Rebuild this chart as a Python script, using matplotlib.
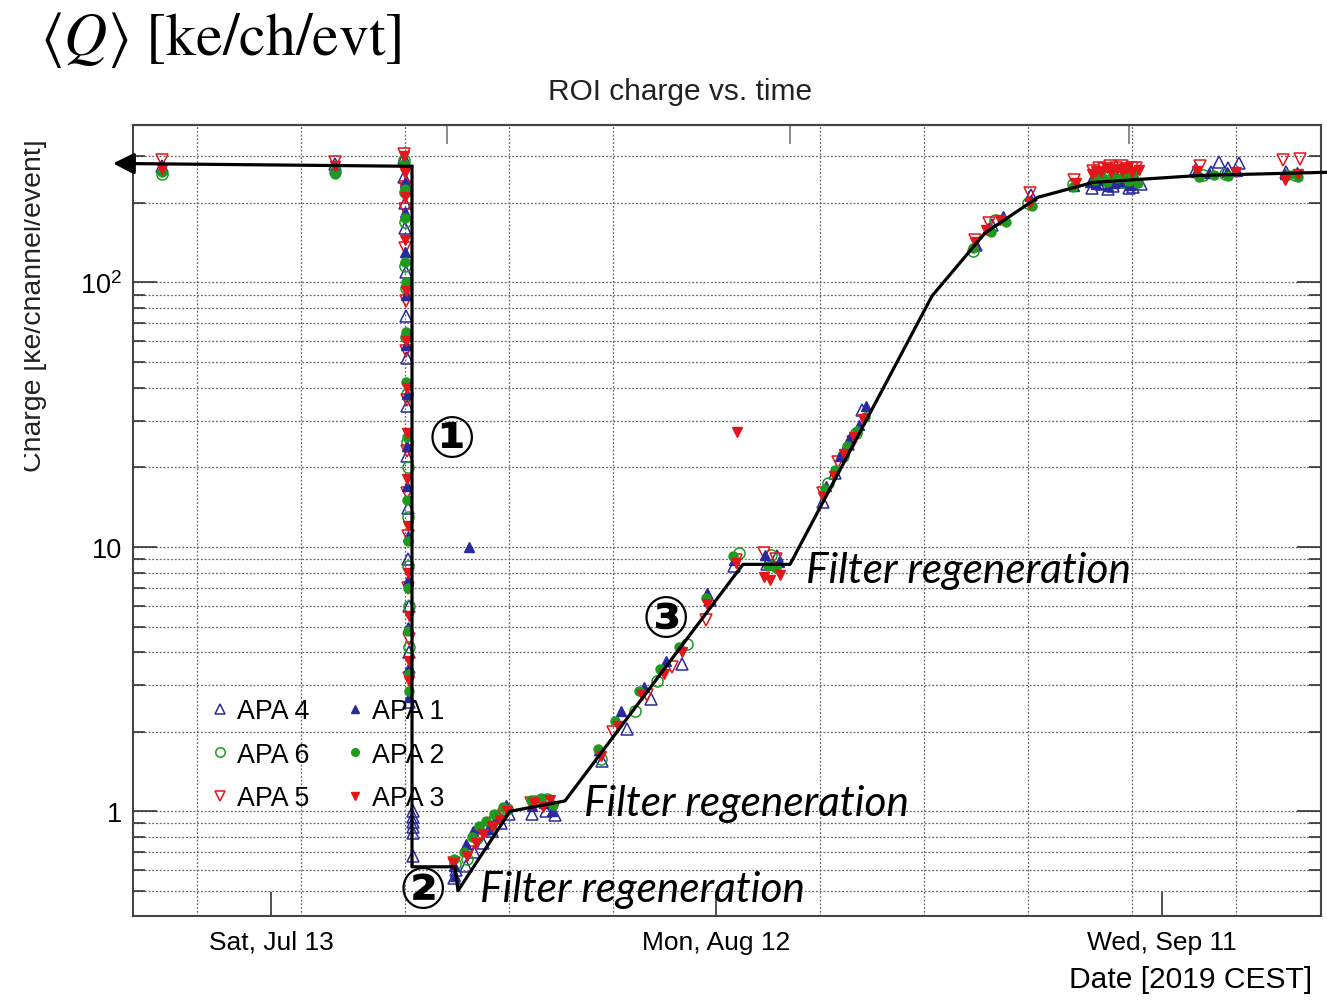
import numpy as np
import matplotlib.pyplot as plt
import matplotlib.dates as mdates
from matplotlib.ticker import FixedLocator, FixedFormatter, LogLocator, NullFormatter
from matplotlib.transforms import Bbox, TransformedBbox

plt.rcParams['font.family'] = ['Liberation Sans', 'DejaVu Sans']
plt.rcParams['mathtext.fontset'] = 'custom'
plt.rcParams['mathtext.rm'] = 'Liberation Sans'

# time axis: days after Mon Jul 8 2019 00:00 (CEST)
t0 = np.datetime64('2019-07-08T00:00')

# APA 1 (filled triangle)
apa1_day = [-2.36, 9.30,
            13.98, 14.00, 14.02, 14.05, 14.07, 14.10, 14.12, 14.15, 14.18, 14.20, 14.22, 14.25, 14.27, 14.30,
            18.33,
            17.30, 17.40,
            18.10, 18.60, 19.10, 19.60, 20.20, 20.80,
            22.60, 23.40, 23.90,
            27.10, 28.60, 30.10, 31.60, 34.40, 36.20,
            38.30, 39.20,
            42.40, 43.30, 44.00, 44.60, 45.10,
            52.40, 53.30, 54.30, 56.20, 59.10,
            60.20, 60.60, 61.00, 61.40, 61.80, 62.20, 62.50, 62.90, 63.20,
            67.30, 68.20, 69.40, 70.10,
            73.30, 74.10]
apa1_q = [272, 268,
          288, 240, 185, 130, 90, 58, 38, 24, 17, 11, 7.5, 5.0, 3.5, 2.7,
          10.0,
          0.62, 0.57,
          0.75, 0.84, 0.87, 0.86, 0.95, 1.06,
          1.05, 1.08, 1.00,
          1.70, 2.40, 2.95, 3.70, 6.70, 8.90,
          9.30, 8.80,
          17.0, 22.0, 26.0, 29.0, 34.0,
          140, 160, 178, 205, 232,
          240, 236, 245, 232, 238, 242, 250, 234, 245,
          262, 260, 262, 265,
          258, 262]

# APA 2 (filled circle)
apa2_day = [-2.36, 9.30,
            13.96, 13.99, 14.01, 14.04, 14.06, 14.09, 14.11, 14.14, 14.17, 14.19, 14.22, 14.24, 14.27, 14.29,
            17.35,
            18.0, 18.5, 19.0, 19.5, 20.0, 20.6,
            22.5, 23.2, 24.0,
            27.0, 28.2, 29.8, 31.2, 32.5, 34.3, 36.1,
            38.5, 39.0,
            42.3, 43.0, 43.8, 44.5, 45.0,
            52.3, 53.5, 54.5, 56.3, 59.0,
            60.5, 60.9, 61.3, 61.7, 62.0, 62.4, 62.8, 63.1, 63.4,
            67.5, 68.5, 69.5,
            73.5, 74.2]
apa2_q = [262, 258,
          280, 225, 175, 120, 100, 65, 42, 26, 15, 10.5, 7.0, 4.8, 3.3, 2.85,
          0.66,
          0.70, 0.80, 0.88, 0.92, 0.98, 1.04,
          1.10, 1.12, 1.06,
          1.72, 2.20, 2.85, 3.45, 4.20, 6.40, 9.20,
          8.50, 8.30,
          16.5, 19.5, 24.0, 27.5, 31.0,
          135, 155, 170, 195, 230,
          245, 252, 240, 255, 248, 250, 242, 256, 238,
          250, 255, 252,
          255, 250]

# APA 3 (filled down triangle)
apa3_day = [-2.36, 9.30,
            13.97, 14.00, 14.02, 14.05, 14.08, 14.10, 14.13, 14.16, 14.18, 14.21, 14.23, 14.26, 14.28, 14.31,
            17.25,
            18.2, 18.8, 19.3, 19.9, 20.4, 20.9,
            22.7, 23.3, 23.8,
            27.2, 28.4, 30.0, 31.5, 32.7, 34.4, 36.3,
            36.39,
            38.2, 38.6, 39.3,
            42.2, 42.9, 43.6, 44.3, 44.9,
            52.4, 53.2, 54.1, 56.1, 59.2,
            60.3, 60.6, 60.9, 61.3, 61.6, 62.0, 62.3, 62.7, 63.0, 63.5,
            67.4, 70.0,
            73.3, 74.2]
apa3_q = [268, 275,
          300, 260, 210, 145, 93, 60, 40, 27, 18, 12, 8.0, 5.5, 3.7, 3.1,
          0.64,
          0.68, 0.76, 0.82, 0.88, 0.93, 1.00,
          1.08, 1.04, 1.10,
          1.62, 2.10, 2.75, 3.30, 4.00, 6.10, 8.70,
          27.3,
          7.70, 7.50, 7.80,
          15.5, 18.5, 22.5, 26.0, 30.5,
          142, 158, 172, 200, 238,
          258, 265, 262, 270, 262, 268, 264, 270, 262, 266,
          265, 262,
          245, 258]

# APA 4 (open triangle)
apa4_day = [-2.36, 9.30,
            13.95, 13.98, 14.01, 14.03, 14.06, 14.09, 14.12, 14.14, 14.17, 14.20, 14.23, 14.26, 14.29, 14.32,
            14.55, 14.55, 14.55, 14.55, 14.55, 14.55,
            17.30, 17.45,
            18.1, 18.7, 19.3, 19.9, 20.5, 21.0,
            22.6, 23.5, 24.1,
            27.3, 29.0, 30.6, 32.7, 34.6, 36.2,
            38.4, 39.1,
            42.2, 43.0, 43.9, 44.8,
            52.5, 53.6, 56.2,
            60.3, 60.7, 61.0, 61.4, 61.7, 62.1, 62.4, 62.8, 63.1, 63.6,
            67.3, 68.3, 68.9, 69.5, 70.2,
            73.4]
apa4_q = [275, 280,
          295, 250, 200, 160, 110, 75, 52, 34, 22, 14, 9.0, 6.0, 4.0, 2.6,
          1.00, 0.95, 0.91, 0.87, 0.83, 0.68,
          0.56, 0.60,
          0.62, 0.70, 0.76, 0.84, 0.90, 0.98,
          0.98, 1.00, 0.97,
          1.55, 2.05, 2.65, 3.60, 6.30, 8.50,
          8.60, 9.20,
          14.8, 19.0, 24.5, 33.0,
          138, 165, 215,
          228, 238, 235, 226, 232, 242, 240, 228, 230, 236,
          268, 262, 285, 272, 282,
          262]

# APA 5 (open down triangle)
apa5_day = [-2.36, 9.30,
            13.96, 13.99, 14.02, 14.04, 14.07, 14.10, 14.13, 14.15, 14.18, 14.21, 14.24, 14.27, 14.30,
            17.30,
            18.3, 18.9, 19.5, 20.1, 20.7,
            22.5, 23.4, 24.0,
            28.0, 30.3, 32.0, 34.3, 36.3,
            38.2, 39.0,
            42.2, 43.2, 44.2,
            52.4, 53.4, 56.1, 59.1,
            60.4, 60.8, 61.1, 61.5, 61.9, 62.3, 62.7, 63.0, 63.3,
            67.6,
            73.2, 74.3]
apa5_q = [290, 285,
          305, 230, 190, 135, 85, 55, 36, 23, 16, 11, 7.0, 4.5, 3.2,
          0.64,
          0.70, 0.78, 0.84, 0.90, 0.97,
          1.08, 1.06, 1.02,
          2.00, 2.75, 3.50, 5.30, 8.90,
          9.50, 9.00,
          16.0, 21.0, 25.0,
          145, 168, 218, 245,
          265, 272, 268, 275, 270, 276, 268, 272, 270,
          275,
          290, 292]

# APA 6 (open circle)
apa6_day = [-2.36, 9.30,
            13.97, 14.00, 14.03, 14.05, 14.08, 14.11, 14.13, 14.16, 14.19, 14.22, 14.25, 14.28, 14.31,
            17.40,
            18.2, 18.9, 19.6, 20.3, 20.9,
            22.8, 23.6,
            27.2, 29.5, 31.0, 33.0, 36.5,
            38.7,
            42.5, 43.5, 44.4,
            52.3, 53.8, 56.0, 59.0,
            60.6, 61.0, 61.5, 61.9, 62.3, 62.6, 63.0,
            67.8, 69.3,
            74.0]
apa6_q = [258, 262,
          290, 220, 170, 115, 95, 62, 38, 25, 20, 13, 8.5, 6.0, 4.2,
          0.63,
          0.66, 0.79, 0.86, 0.94, 1.02,
          1.09, 1.11,
          1.58, 2.40, 3.10, 4.30, 9.50,
          9.30,
          17.5, 22.0, 27.0,
          132, 172, 200, 235,
          250, 246, 245, 252, 240, 250, 248,
          255, 258,
          255]

# hand-drawn trend line (with arrow at the start)
trend_day = [-5.66, 14.49, 14.49, 17.39, 17.59, 21.09, 24.80, 36.79, 39.96, 49.53, 53.10, 56.67, 60.38, 67.59, 76.15]
trend_q = [282, 275, 0.617, 0.617, 0.501, 1.0, 1.095, 8.59, 8.59, 88.9, 153.8, 210, 239, 254, 261]

xtick_dates = ['2019-07-13', '2019-08-12', '2019-09-11']
xtick_labels = ['Sat, Jul 13', 'Mon, Aug 12', 'Wed, Sep 11']
top_tick_days = [16.82, 39.96, 62.80]
ytick_vals = [1, 10, 100]
ytick_labels = ['1', '10', r'$\mathregular{10^{2}}$']


def to_date(days):
    return t0 + (np.array(days) * 86400).astype('timedelta64[s]')


def fx(px):
    return px / 1327


def fy(py):
    return 1 - py / 1004


blue = '#2a2a9e'
green = '#1f9a1f'
red = '#e2161b'

fig = plt.figure(figsize=(13.27, 10.04), dpi=100)
ax = fig.add_axes([fx(133), fy(917), (1321 - 133) / 1327, (917 - 126) / 1004])

h4, = ax.plot(to_date(apa4_day), apa4_q, ls='none', marker='^', ms=9, mfc='none', mec=blue, mew=1.1, label='APA 4')
h6, = ax.plot(to_date(apa6_day), apa6_q, ls='none', marker='o', ms=8, mfc='none', mec=green, mew=1.1, label='APA 6')
h5, = ax.plot(to_date(apa5_day), apa5_q, ls='none', marker='v', ms=9, mfc='none', mec=red, mew=1.1, label='APA 5')
h1, = ax.plot(to_date(apa1_day), apa1_q, ls='none', marker='^', ms=6.5, color=blue, label='APA 1')
h2, = ax.plot(to_date(apa2_day), apa2_q, ls='none', marker='o', ms=6.5, color=green, label='APA 2')
h3, = ax.plot(to_date(apa3_day), apa3_q, ls='none', marker='v', ms=7, color=red, label='APA 3')

# trend line on top, allowed to run outside the frame
tdates = to_date(trend_day)
ax.plot(tdates[1:], trend_q[1:], color='black', lw=2.3, clip_on=False, zorder=6)
ax.annotate('', xy=(tdates[0], trend_q[0]), xytext=(tdates[1], trend_q[1]),
            arrowprops=dict(arrowstyle='-|>', color='black', lw=2.3, mutation_scale=32,
                            shrinkA=0, shrinkB=0),
            annotation_clip=False, zorder=6)

ax.set_yscale('log')
ax.set_ylim(0.402, 394)
ax.set_xlim(to_date([-4.31])[0], to_date([75.74])[0])

ax.yaxis.set_major_locator(FixedLocator(ytick_vals))
ax.yaxis.set_major_formatter(FixedFormatter(ytick_labels))
ax.yaxis.set_minor_locator(LogLocator(base=10, subs=np.arange(2, 10)))
ax.yaxis.set_minor_formatter(NullFormatter())

ax.xaxis.set_major_locator(FixedLocator(mdates.date2num(np.array(xtick_dates, dtype='datetime64[D]'))))
ax.xaxis.set_major_formatter(FixedFormatter(xtick_labels))
ax.xaxis.set_minor_locator(mdates.WeekdayLocator(byweekday=mdates.MO))

ax.tick_params(axis='y', which='both', direction='in', left=True, right=True, color='#333', width=1.2)
ax.tick_params(axis='y', which='major', length=17, pad=8, labelsize=19.5)
ax.tick_params(axis='y', which='minor', length=8.5)
ax.tick_params(axis='x', which='major', direction='in', length=17, width=1.2, color='#333', pad=10, labelsize=19)
ax.tick_params(axis='x', which='minor', length=0)

ax.grid(True, axis='y', which='both', ls=(0, (1.5, 1.5)), color='#666', lw=0.9)
ax.grid(True, axis='x', which='minor', ls=(0, (1.5, 1.5)), color='#666', lw=0.9)

for sp in ax.spines.values():
    sp.set_color('#444')
    sp.set_linewidth(1.5)

secax = ax.secondary_xaxis('top')
secax.xaxis.set_major_locator(FixedLocator(mdates.date2num(to_date(top_tick_days))))
secax.xaxis.set_major_formatter(NullFormatter())
secax.tick_params(direction='in', length=14, width=1.2, color='#777')
secax.spines['top'].set_color('#444')
secax.spines['top'].set_linewidth(1.5)

leg = ax.legend(handles=[h4, h6, h5, h1, h2, h3], ncol=2, frameon=False, loc='upper left',
                bbox_to_anchor=(fx(212), fy(699)), bbox_transform=fig.transFigure,
                fontsize=19.3, handlelength=0.6, handletextpad=0.35, columnspacing=1.38,
                labelspacing=0.66, borderaxespad=0, borderpad=0, markerscale=0.85)
leg.set_zorder(5)

# texts around the frame
fig.text(fx(40), fy(40), r'$\langle Q\rangle$ [ke/ch/evt]', fontsize=43, family='STIXGeneral',
         math_fontfamily='stix', va='center', ha='left')
fig.text(fx(680), fy(92), 'ROI charge vs. time', ha='center', va='center', fontsize=21.5, color='#222')
fig.text(fx(1312), fy(980), 'Date [2019 CEST]', ha='right', va='center', fontsize=21.6)
ylab = fig.text(fx(47), fy(306), 'Charge [ke/channel/event]', rotation=90, ha='right', va='center',
                fontsize=20.5, color='#222')
ylab.set_clip_box(TransformedBbox(Bbox([[fx(24), 0], [1, 1]]), fig.transFigure))
ylab.set_clip_on(True)

# annotations
for s, (px, py) in zip(['\u2460', '\u2461', '\u2462'], [(452, 441), (423, 893), (666, 621)]):
    fig.text(fx(px), fy(py), s, ha='center', va='center', fontsize=41, family='DejaVu Sans',
             fontweight='bold', zorder=7)
for px, py in [(480, 890), (584, 804), (806, 571)]:
    fig.text(fx(px), fy(py), 'Filter regeneration', ha='left', va='center', fontsize=30.5,
             family='Lato', style='italic', zorder=7)

fig.savefig('out.png', dpi=100)
